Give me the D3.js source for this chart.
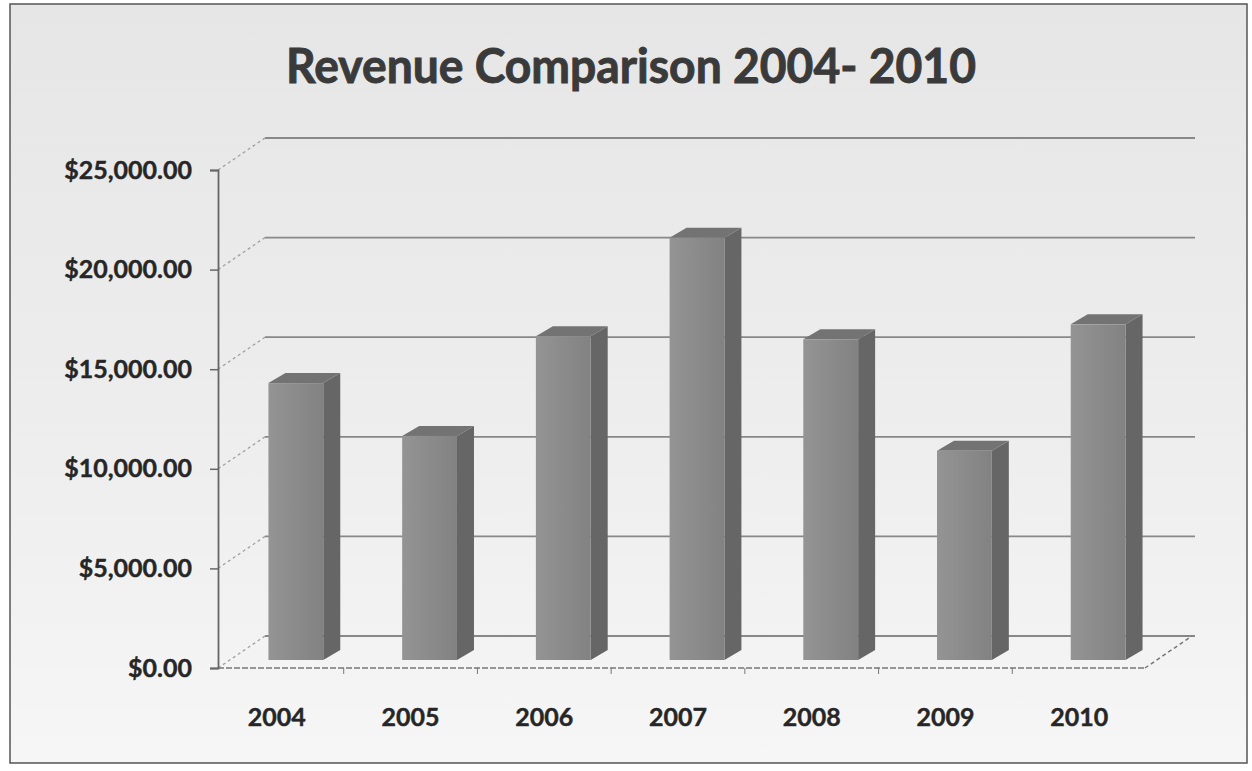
<!DOCTYPE html>
<html>
<head>
<meta charset="utf-8">
<script src="https://cdn.jsdelivr.net/npm/d3@7"></script>
<style>
  html, body { margin: 0; padding: 0; background: #ffffff; }
  svg { display: block; }
</style>
</head>
<body>
<svg id="chart" width="1252" height="771"></svg>
<script>
// Revenue by year
const years = ["2004", "2005", "2006", "2007", "2008", "2009", "2010"];
const revenue = [13900, 11250, 16250, 21200, 16100, 10500, 16850];
const tickValues = [0, 5000, 10000, 15000, 20000, 25000];
const titleText = "Revenue Comparison 2004- 2010";

const svg = d3.select("#chart");
const FONT = "Lato, 'Open Sans', sans-serif";

// 3D offsets: back wall, bar plane and bar depth
const WALL = { dx: 47, dy: -32 };
const BAR = { dx: 19, dy: -8 };
const DEPTH = { dx: 17, dy: -10 };

const y = d3.scaleLinear().domain([0, 25000]).range([668, 170]);
const x = d3.scaleBand().domain(years).range([210, 1146])
  .paddingInner(0.59).paddingOuter(0.295);

const defs = svg.append("defs");
const bg = defs.append("linearGradient").attr("id", "bg")
  .attr("x1", 0).attr("y1", 0).attr("x2", 0).attr("y2", 1);
bg.append("stop").attr("offset", "0%").attr("stop-color", "#e6e6e6");
bg.append("stop").attr("offset", "60%").attr("stop-color", "#eeeeee");
bg.append("stop").attr("offset", "100%").attr("stop-color", "#f6f6f6");

const front = defs.append("linearGradient").attr("id", "front")
  .attr("x1", 0).attr("y1", 0).attr("x2", 1).attr("y2", 0);
front.append("stop").attr("offset", "0%").attr("stop-color", "#949494");
front.append("stop").attr("offset", "100%").attr("stop-color", "#828282");

// chart frame
svg.append("rect").attr("x", 10).attr("y", 4).attr("width", 1237).attr("height", 759)
  .attr("fill", "url(#bg)").attr("stroke", "#555").attr("stroke-width", 1.5);

// title
svg.append("text")
  .attr("x", 631).attr("y", 83)
  .attr("text-anchor", "middle")
  .attr("font-family", FONT)
  .attr("font-weight", 700)
  .attr("font-size", 47)
  .attr("fill", "#3a3a3a")
  .attr("stroke", "#3a3a3a").attr("stroke-width", 0.9)
  .attr("textLength", 690)
  .attr("lengthAdjust", "spacingAndGlyphs")
  .text(titleText);

const x0 = 218;    // left wall front edge
const xEnd = 1145; // floor front right corner

const grid = svg.append("g");
// back-wall gridlines
grid.selectAll("line.back").data(tickValues).join("line")
  .attr("class", "back")
  .attr("x1", x0 + WALL.dx).attr("x2", xEnd + WALL.dx + 3)
  .attr("y1", d => y(d) + WALL.dy).attr("y2", d => y(d) + WALL.dy)
  .attr("stroke", "#888").attr("stroke-width", 1.8);
// left-wall gridlines
grid.selectAll("line.side").data(tickValues).join("line")
  .attr("class", "side")
  .attr("x1", x0).attr("x2", x0 + WALL.dx)
  .attr("y1", d => y(d)).attr("y2", d => y(d) + WALL.dy)
  .attr("stroke", "#a0a0a0").attr("stroke-width", 1.3)
  .attr("stroke-dasharray", "3,3");

// floor edges
grid.append("line")
  .attr("x1", x0).attr("x2", xEnd).attr("y1", y(0)).attr("y2", y(0))
  .attr("stroke", "#777").attr("stroke-width", 1.5).attr("stroke-dasharray", "6,2");
grid.append("line")
  .attr("x1", xEnd).attr("x2", xEnd + WALL.dx).attr("y1", y(0)).attr("y2", y(0) + WALL.dy)
  .attr("stroke", "#777").attr("stroke-width", 1.5).attr("stroke-dasharray", "4,3");

// category ticks on the floor front edge
const bounds = d3.range(years.length + 1).map(i => x.range()[0] + i * x.step());
grid.selectAll("line.xtick").data(bounds.slice(1, -1)).join("line")
  .attr("class", "xtick")
  .attr("x1", d => d).attr("x2", d => d)
  .attr("y1", y(0)).attr("y2", y(0) + 6)
  .attr("stroke", "#777").attr("stroke-width", 1);

// y axis
const yAxis = d3.axisLeft(y)
  .tickValues(tickValues)
  .tickFormat(d3.format("$,.2f"))
  .tickSize(8)
  .tickPadding(18);
const ya = svg.append("g").attr("transform", `translate(${x0},0)`).call(yAxis);
ya.select(".domain").attr("stroke", "#666").attr("stroke-width", 1.8);
ya.selectAll(".tick line").attr("stroke", "#666").attr("stroke-width", 1.5);
ya.selectAll(".tick text")
  .attr("font-family", FONT)
  .attr("font-weight", 700)
  .attr("font-size", 25)
  .attr("fill", "#262626")
  .attr("stroke", "#262626").attr("stroke-width", 0.4);

// 3D bars
const bars = svg.append("g");
const data = years.map((yr, i) => ({ year: yr, value: revenue[i] }));
const g = bars.selectAll("g.bar").data(data).join("g").attr("class", "bar");

function geom(d) {
  const left = x(d.year) + BAR.dx;
  const right = left + x.bandwidth();
  const top = y(d.value) + BAR.dy;
  const bottom = y(0) + BAR.dy;
  return { left, right, top, bottom };
}

// side face
g.append("path")
  .attr("d", d => {
    const b = geom(d);
    return `M${b.right},${b.top} L${b.right + DEPTH.dx},${b.top + DEPTH.dy} ` +
      `L${b.right + DEPTH.dx},${b.bottom + DEPTH.dy} L${b.right},${b.bottom} Z`;
  })
  .attr("fill", "#666666");
// top face
g.append("path")
  .attr("d", d => {
    const b = geom(d);
    return `M${b.left},${b.top} L${b.left + DEPTH.dx},${b.top + DEPTH.dy} ` +
      `L${b.right + DEPTH.dx},${b.top + DEPTH.dy} L${b.right},${b.top} Z`;
  })
  .attr("fill", "#737373");
// front face
g.append("rect")
  .attr("x", d => geom(d).left)
  .attr("y", d => geom(d).top)
  .attr("width", x.bandwidth())
  .attr("height", d => geom(d).bottom - geom(d).top)
  .attr("fill", "url(#front)");

// category labels
svg.append("g").selectAll("text").data(years).join("text")
  .attr("x", d => x(d) + x.bandwidth() / 2)
  .attr("y", 726)
  .attr("text-anchor", "middle")
  .attr("font-family", FONT)
  .attr("font-weight", 700)
  .attr("font-size", 25)
  .attr("fill", "#262626")
  .attr("stroke", "#262626").attr("stroke-width", 0.4)
  .text(d => d);
</script>
</body>
</html>
